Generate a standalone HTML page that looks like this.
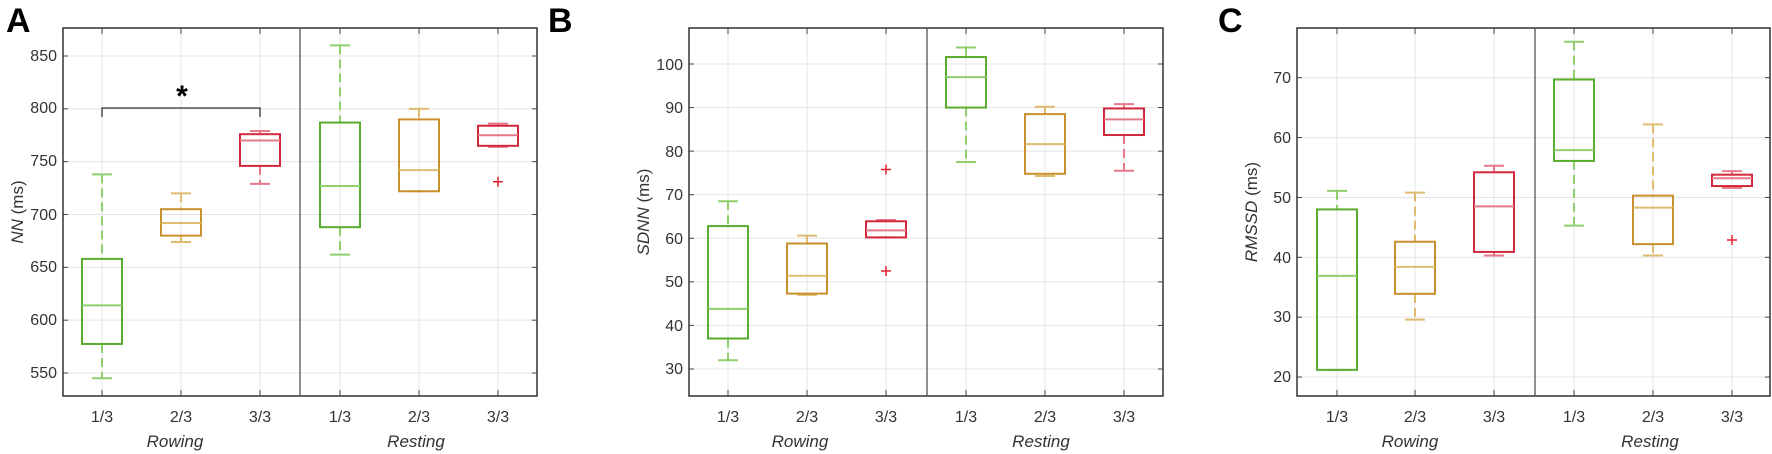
<!DOCTYPE html>
<html><head><meta charset="utf-8"><style>
body{margin:0;background:#fff;}
svg{display:block;font-family:"Liberation Sans",sans-serif;}
.t{font-size:16px;fill:#333;}
.lab{font-size:17px;font-style:italic;fill:#333;}
.big{font-size:34px;font-weight:bold;fill:#000;}
</style></head><body>
<svg id="s" width="1772" height="454" viewBox="0 0 1772 454" xmlns="http://www.w3.org/2000/svg">
<text class="big" x="6" y="32">A</text>
<text class="big" x="548" y="32">B</text>
<text class="big" x="1218" y="32">C</text>
<g class="t" text-anchor="end">
<text x="57" y="61">850</text><text x="57" y="113">800</text><text x="57" y="166">750</text><text x="57" y="220">700</text><text x="57" y="272">650</text><text x="57" y="325">600</text><text x="57" y="378">550</text>
<text x="683" y="70">100</text><text x="683" y="113">90</text><text x="683" y="157">80</text><text x="683" y="200">70</text><text x="683" y="244">60</text><text x="683" y="287">50</text><text x="683" y="331">40</text><text x="683" y="374">30</text>
<text x="1291" y="83">70</text><text x="1291" y="143">60</text><text x="1291" y="203">50</text><text x="1291" y="263">40</text><text x="1291" y="322">30</text><text x="1291" y="382">20</text>
</g>
<g class="t" text-anchor="middle">
<text x="102" y="422">1/3</text><text x="181" y="422">2/3</text><text x="260" y="422">3/3</text><text x="340" y="422">1/3</text><text x="419" y="422">2/3</text><text x="498" y="422">3/3</text>
<text x="728" y="422">1/3</text><text x="807" y="422">2/3</text><text x="886" y="422">3/3</text><text x="966" y="422">1/3</text><text x="1045" y="422">2/3</text><text x="1124" y="422">3/3</text>
<text x="1337" y="422">1/3</text><text x="1415" y="422">2/3</text><text x="1494" y="422">3/3</text><text x="1574" y="422">1/3</text><text x="1653" y="422">2/3</text><text x="1732" y="422">3/3</text>
</g>
<g class="lab" text-anchor="middle">
<text x="175" y="447">Rowing</text><text x="416" y="447">Resting</text>
<text x="800" y="447">Rowing</text><text x="1041" y="447">Resting</text>
<text x="1410" y="447">Rowing</text><text x="1650" y="447">Resting</text>
</g>
<text class="t" style="font-size:17px" transform="translate(23,212) rotate(-90)" text-anchor="middle"><tspan font-style="italic">NN</tspan> (ms)</text>
<text class="t" style="font-size:17px" transform="translate(649,212) rotate(-90)" text-anchor="middle"><tspan font-style="italic">SDNN</tspan> (ms)</text>
<text class="t" style="font-size:17px" transform="translate(1257,212) rotate(-90)" text-anchor="middle"><tspan font-style="italic">RMSSD</tspan> (ms)</text>
<g id="g"></g>
<path d="M102,117V108H260V117" fill="none" stroke="#333" stroke-width="1.3"/>
<text x="182" y="106" text-anchor="middle" style="font-size:30px;font-weight:bold">*</text>
</svg>
<script>
var G=document.getElementById('g'),h='';
var C=['#5aac2e','#c8902e','#d2283c'],M=['#8fcf6e','#dfbb70','#e77888'];
function P(x0,x1,div,ticks,f,data){
 var d=(x1-x0);
 ticks.forEach(function(v){var y=f(v);h+='<line x1="'+x0+'" x2="'+x1+'" y1="'+y+'" y2="'+y+'" stroke="#e4e4e4"/>';
  h+='<line x1="'+x0+'" x2="'+(x0+5)+'" y1="'+y+'" y2="'+y+'" stroke="#444"/><line x1="'+(x1-5)+'" x2="'+x1+'" y1="'+y+'" y2="'+y+'" stroke="#444"/>';});
 data.forEach(function(b){h+='<line x1="'+b.x+'" x2="'+b.x+'" y1="28" y2="396" stroke="#e4e4e4"/><line x1="'+b.x+'" x2="'+b.x+'" y1="28" y2="34" stroke="#444"/><line x1="'+b.x+'" x2="'+b.x+'" y1="390" y2="396" stroke="#444"/>';});
 h+='<rect x="'+x0+'" y="28" width="'+d+'" height="368" fill="none" stroke="#333" stroke-width="1.5"/>';
 h+='<line x1="'+div+'" x2="'+div+'" y1="28" y2="396" stroke="#555" stroke-width="1.3"/>';
 data.forEach(function(b,i){var c=C[i%3],m=M[i%3],x=b.x;
  var wl=f(b.v[0]),q1=f(b.v[1]),md=f(b.v[2]),q3=f(b.v[3]),wh=f(b.v[4]);
  h+='<line x1="'+x+'" x2="'+x+'" y1="'+wh+'" y2="'+q3+'" stroke="'+m+'" stroke-width="2" stroke-dasharray="9,5"/>';
  h+='<line x1="'+x+'" x2="'+x+'" y1="'+q1+'" y2="'+wl+'" stroke="'+m+'" stroke-width="2" stroke-dasharray="9,5"/>';
  h+='<line x1="'+(x-10)+'" x2="'+(x+10)+'" y1="'+wh+'" y2="'+wh+'" stroke="'+m+'" stroke-width="2"/>';
  h+='<line x1="'+(x-10)+'" x2="'+(x+10)+'" y1="'+wl+'" y2="'+wl+'" stroke="'+m+'" stroke-width="2"/>';
  h+='<rect x="'+(x-20)+'" y="'+q3+'" width="40" height="'+(q1-q3)+'" fill="none" stroke="'+c+'" stroke-width="2"/>';
  h+='<line x1="'+(x-20)+'" x2="'+(x+20)+'" y1="'+md+'" y2="'+md+'" stroke="'+m+'" stroke-width="2"/>';
  (b.o||[]).forEach(function(o){var y=f(o);h+='<path d="M'+(x-5)+','+y+'H'+(x+5)+'M'+x+','+(y-5)+'V'+(y+5)+'" stroke="#e02030" stroke-width="1.5"/>';});
 });
}
P(63,537,300,[850,800,750,700,650,600,550],function(v){return 56+(850-v)*1.0567},[
 {x:102,v:[545,577.5,614,658,738]},{x:181,v:[674,680,692,705,720]},{x:260,v:[729,746,770,776,779]},
 {x:340,v:[662,688,727,787,860]},{x:419,v:[722,722,742,790,800]},{x:498,v:[764,765,775,784,786],o:[731]}]);
P(689,1163,927,[100,90,80,70,60,50,40,30],function(v){return 64+(100-v)*4.357},[
 {x:728,v:[32,37,43.8,62.8,68.5]},{x:807,v:[47,47.3,51.4,58.8,60.6]},{x:886,v:[60.2,60.2,61.8,63.9,64.2],o:[75.8,52.5]},
 {x:966,v:[77.5,90,97,101.6,103.8]},{x:1045,v:[74.3,74.8,81.6,88.5,90.2]},{x:1124,v:[75.5,83.7,87.3,89.8,90.8]}]);
P(1297,1770,1535,[70,60,50,40,30,20],function(v){return 77.7+(70-v)*5.987},[
 {x:1337,v:[21.2,21.2,36.9,48,51.1]},{x:1415,v:[29.6,33.9,38.4,42.6,50.8]},{x:1494,v:[40.3,40.9,48.5,54.2,55.3]},
 {x:1574,v:[45.3,56.1,57.9,69.7,76]},{x:1653,v:[40.3,42.2,48.3,50.3,62.2]},{x:1732,v:[51.6,51.9,53.2,53.8,54.4],o:[42.9]}]);
G.innerHTML=h;
</script>
</body></html>
